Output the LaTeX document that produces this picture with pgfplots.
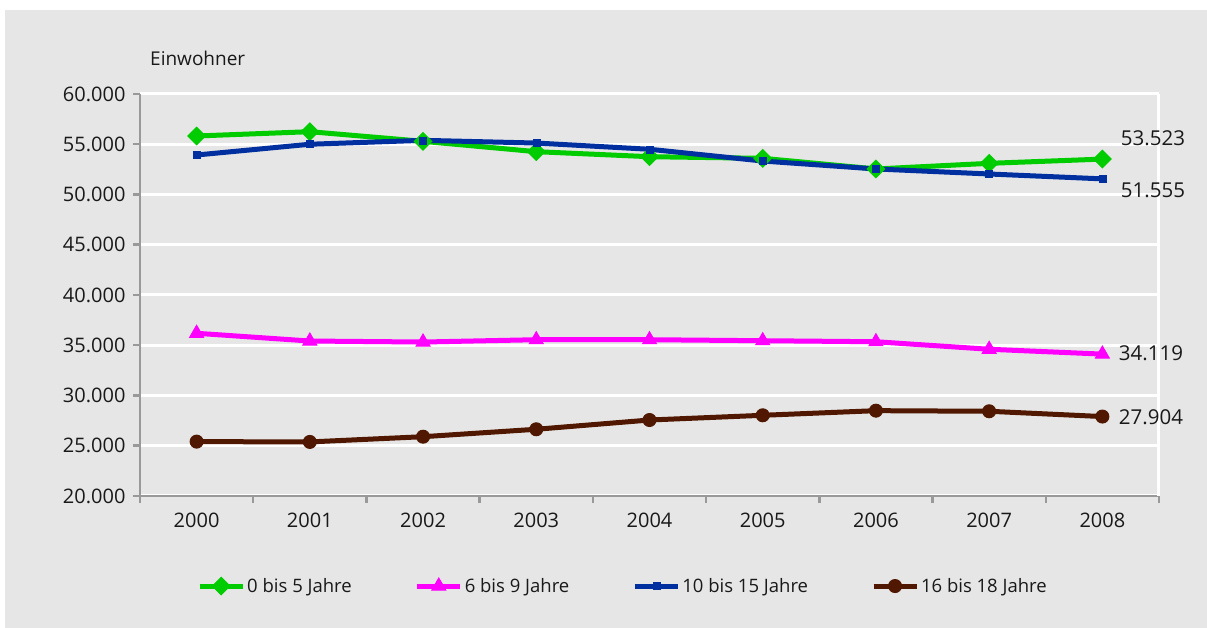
\documentclass[border=0pt]{standalone}
\usepackage{fontspec}
\setmainfont{Open Sans}
\usepackage{pgfplots}
\pgfplotsset{compat=1.18}
\definecolor{bg}{RGB}{230,230,230}
\definecolor{axgrey}{RGB}{153,153,153}
\definecolor{cgreen}{RGB}{0,204,0}
\definecolor{cmag}{RGB}{255,0,255}
\definecolor{cblue}{RGB}{0,48,160}
\definecolor{cbrown}{RGB}{80,24,0}
\definecolor{txt}{RGB}{25,25,25}
\begin{document}
\begin{tikzpicture}[x=1pt,y=1pt]
\path[use as bounding box] (0pt,0pt) rectangle (1207pt,628pt);
\fill[bg] (5pt,0pt) rectangle (1207pt,618pt);
\node[anchor=west, font=\fontsize{19}{22}\selectfont, text=txt, inner sep=0] at (150pt,570pt) {Einwohner};
\begin{axis}[
  at={(140pt,132pt)}, anchor=south west, scale only axis,
  width=1019pt, height=402pt,
  xmin=-0.5, xmax=8.5, ymin=20000, ymax=60000,
  axis lines=left, axis line style={-, axgrey, line width=2.5pt},
  xtick={-0.5,0.5,...,8.5}, xticklabels={},
  extra x ticks={0,1,2,3,4,5,6,7,8},
  extra x tick labels={2000,2001,2002,2003,2004,2005,2006,2007,2008},
  extra x tick style={major tick length=0pt, grid=none},
  x tick label style={yshift=-13pt},
  ytick={20000,25000,...,60000},
  scaled y ticks=false,
  y tick label style={xshift=-4pt, /pgf/number format/fixed, /pgf/number format/1000 sep={.}, /pgf/number format/assume math mode=true},
  tick label style={font=\fontsize{20}{24}\selectfont, text=txt},
  tick align=outside, major tick length=7pt,
  tick style={axgrey, line width=2.5pt},
  ymajorgrids, major grid style={white, line width=3pt},
  clip=false,
  legend columns=4,
  legend style={at={(0.474,-0.224)}, anchor=center, draw=none, fill=none,
    font=\fontsize{18.5}{22}\selectfont, text=txt,
    nodes={inner sep=2pt},
    /tikz/every even column/.append style={column sep=61pt}},
  legend image code/.code={\draw[mark repeat=2,mark phase=2] plot coordinates {(0pt,0pt) (21.5pt,0pt) (43pt,0pt)};},
]
\draw[white, line width=3pt] (rel axis cs:1,0) -- (rel axis cs:1,1);
\addplot[cgreen, line width=5pt, mark=square*, mark size=6.2pt, mark options={rotate=45, solid, line width=1pt, fill=cgreen}]
 coordinates {(0,55820) (1,56250) (2,55290) (3,54260) (4,53760) (5,53600) (6,52540) (7,53100) (8,53523)};
\addlegendentry{0 bis 5 Jahre}
\addplot[cmag, line width=5pt, mark=triangle*, mark size=8pt, mark options={solid, line width=1pt, fill=cmag}]
 coordinates {(0,36190) (1,35420) (2,35320) (3,35550) (4,35550) (5,35450) (6,35350) (7,34600) (8,34119)};
\addlegendentry{6 bis 9 Jahre}
\addplot[cblue, line width=5pt, mark=square*, mark size=3.5pt, mark options={solid, line width=0.5pt, fill=cblue}]
 coordinates {(0,53930) (1,55000) (2,55390) (3,55120) (4,54500) (5,53330) (6,52540) (7,52040) (8,51555)};
\addlegendentry{10 bis 15 Jahre}
\addplot[cbrown, line width=5pt, mark=*, mark size=6.5pt, mark options={solid, line width=1pt, fill=cbrown}]
 coordinates {(0,25410) (1,25380) (2,25900) (3,26640) (4,27560) (5,28030) (6,28490) (7,28430) (8,27904)};
\addlegendentry{16 bis 18 Jahre}
\node[anchor=west, font=\fontsize{20.5}{24}\selectfont, text=txt, xshift=15pt, yshift=21pt] at (axis cs:8,53523) {53.523};
\node[anchor=west, font=\fontsize{20.5}{24}\selectfont, text=txt, xshift=15pt, yshift=-11pt] at (axis cs:8,51555) {51.555};
\node[anchor=west, font=\fontsize{20.5}{24}\selectfont, text=txt, xshift=13pt, yshift=1pt] at (axis cs:8,34119) {34.119};
\node[anchor=west, font=\fontsize{20.5}{24}\selectfont, text=txt, xshift=13pt, yshift=-1pt] at (axis cs:8,27904) {27.904};
\end{axis}
\end{tikzpicture}
\end{document}
